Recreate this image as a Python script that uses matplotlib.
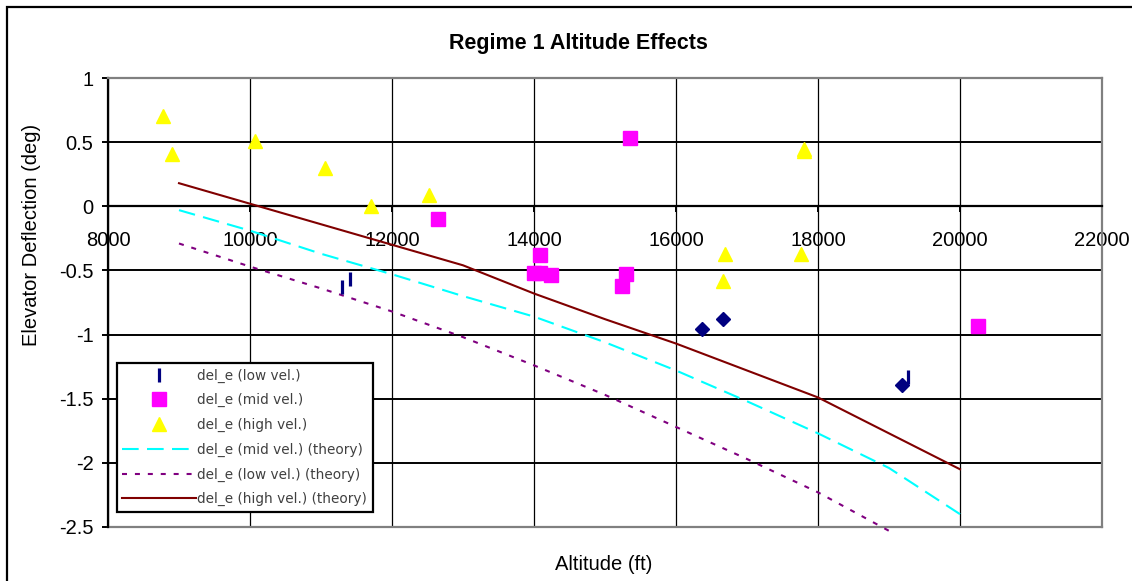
import numpy as np
import matplotlib
matplotlib.use("Agg")
import matplotlib.pyplot as plt
from matplotlib.patches import Rectangle

plt.rcParams['font.family'] = ['Liberation Sans', 'DejaVu Sans']
plt.rcParams['axes.unicode_minus'] = False

# measured points
low_bar_x = [11300, 11410, 19270]
low_bar_y = [-0.63, -0.565, -1.33]
low_dia_x = [16360, 16660, 19190]
low_dia_y = [-0.96, -0.88, -1.39]

mid_x = [12650, 14000, 14090, 14080, 14240, 15300, 15240, 15350, 20250]
mid_y = [-0.10, -0.52, -0.52, -0.38, -0.535, -0.53, -0.62, 0.53, -0.93]

high_x = [8780, 8900, 10070, 11060, 11700, 12520, 16660, 16690, 17760, 17800, 17800]
high_y = [0.70, 0.41, 0.51, 0.30, 0.00, 0.09, -0.58, -0.37, -0.37, 0.45, 0.43]

# theory curves
theo_x = [9000, 10000, 11000, 12000, 13000, 14000, 15000, 16000, 17000, 18000, 19000, 20000]
theo_mid = [-0.03, -0.19, -0.37, -0.53, -0.70, -0.86, -1.06, -1.28, -1.52, -1.77, -2.04, -2.40]
theo_low_x = theo_x[:-1]
theo_low = [-0.29, -0.47, -0.64, -0.82, -1.02, -1.24, -1.47, -1.72, -1.97, -2.23, -2.53]
theo_high = [0.18, 0.02, -0.14, -0.30, -0.46, -0.68, -0.88, -1.07, -1.28, -1.49, -1.77, -2.05]

xticks = [8000, 10000, 12000, 14000, 16000, 18000, 20000, 22000]
yticks = [-2.5, -2, -1.5, -1, -0.5, 0, 0.5, 1]

W, H = 1132, 581
fig = plt.figure(figsize=(W / 100, H / 100), dpi=100)
ax = fig.add_axes([108 / W, 1 - 527 / H, 994 / W, 449 / H])

ax.set_xlim(8000, 22000)
ax.set_ylim(-2.5, 1)

# markers
ax.plot(low_bar_x, low_bar_y, ls='none', marker='|', ms=9.5, mew=2.3,
        color='#000080', label='del_e (low vel.)', zorder=4)
ax.plot(low_dia_x, low_dia_y, ls='none', marker='D', ms=7.5,
        color='#000080', zorder=4)
ax.plot(mid_x, mid_y, ls='none', marker='s', ms=10, color='#FF00FF',
        label='del_e (mid vel.)', zorder=4)
ax.plot(high_x, high_y, ls='none', marker='^', ms=10, color='#FFFF00',
        label='del_e (high vel.)', zorder=4)

# theory lines
ax.plot(theo_x, theo_mid, color='#00FFFF', lw=1.5, dashes=(8, 4),
        label='del_e (mid vel.) (theory)', clip_on=False, zorder=3)
ax.plot(theo_low_x, theo_low, color='#800080', lw=1.5, dashes=(2.4, 3.8),
        label='del_e (low vel.) (theory)', clip_on=False, zorder=3)
ax.plot(theo_x, theo_high, color='#800000', lw=1.5,
        label='del_e (high vel.) (theory)', clip_on=False, zorder=3)

# grid
ax.set_axisbelow(True)
for y in yticks:
    ax.axhline(y, color='black', lw=1.4, zorder=1)
for x in xticks:
    ax.axvline(x, color='black', lw=0.9, zorder=1)

# axes / spines
ax.spines['bottom'].set_position(('data', 0))
ax.spines['bottom'].set_color('black')
ax.spines['bottom'].set_linewidth(1.6)
ax.spines['left'].set_color('black')
ax.spines['left'].set_linewidth(1.6)
for s in ['top', 'right']:
    ax.spines[s].set_color('#808080')
    ax.spines[s].set_linewidth(1.6)
ax.plot([0, 1], [0, 0], transform=ax.transAxes, color='#808080', lw=1.6,
        clip_on=False, zorder=2)

ax.set_xticks(xticks)
ax.set_xticklabels([str(v) for v in xticks])
ax.set_yticks(yticks)
ax.set_yticklabels(['{:g}'.format(v) for v in yticks])
ax.tick_params(axis='both', labelsize=14.5, colors='black', width=1.4)
ax.tick_params(axis='y', direction='out', length=4.5, pad=6)
ax.tick_params(axis='x', direction='out', length=4.5, pad=13)

leg = ax.legend(loc='upper left', bbox_to_anchor=(9 / 994, 164 / 449),
                borderaxespad=0, numpoints=1, handlelength=5.4,
                handletextpad=0.1, labelspacing=0.78, borderpad=0.4,
                fancybox=False, framealpha=1, edgecolor='black',
                prop={'family': 'DejaVu Sans', 'size': 9.8})
leg.get_frame().set_linewidth(1.6)
for t in leg.get_texts():
    t.set_color('#404040')

fig.text(578 / W, 1 - 44 / H, 'Regime 1 Altitude Effects', ha='center',
         va='center', fontsize=15.5, fontweight='bold')
fig.text(32 / W, 1 - 235 / H, 'Elevator Deflection (deg)', ha='center',
         va='center', rotation=90, fontsize=14.5)
fig.text(604 / W, 1 - 565 / H, 'Altitude (ft)', ha='center', va='center',
         fontsize=14.5)

# outer chart border
fig.patches.append(Rectangle((7 / W, -0.1), 1.2, 1.1 - 7 / H, fill=False,
                             edgecolor='black', lw=1.6,
                             transform=fig.transFigure, figure=fig))

fig.savefig('out.png', dpi=100)
